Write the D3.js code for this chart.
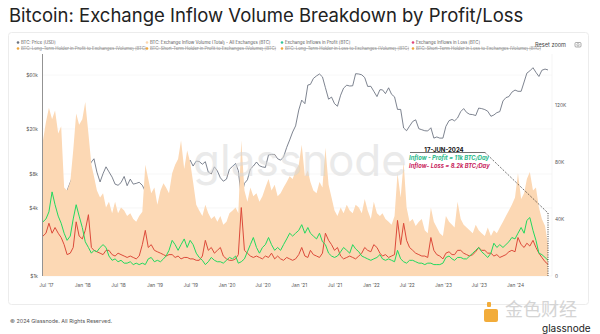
<!DOCTYPE html>
<html>
<head>
<meta charset="utf-8">
<script src="https://cdn.jsdelivr.net/npm/d3@7"></script>
<style>
  body { margin: 0; background: #fff; }
  svg { display: block; }
  text { font-family: Inter, "Open Sans", sans-serif; }
</style>
</head>
<body>
<svg id="chart" width="600" height="334"></svg>
<script>
/**
 * Bitcoin exchange inflow volume, split by profit / loss.
 * Semi-monthly samples (1st and 16th).
 */

// sample dates: 2017-06-16, then 1st & 16th of each month up to 2024-06-16
var dates = [new Date(2017, 5, 16)];
for (let m = 0; m < 84; m++) {
  dates.push(new Date(2017, 6 + m, 1));
  dates.push(new Date(2017, 6 + m, 16));
}

// BTC price [USD]
var priceUsd = [
  2450, 2480, 1930, 2720, 4380, 4900, 3680, 4400, 5700, 6740, 7850, 10900, 19400,
  13400, 11300, 9100, 10200, 10900, 8300, 6800, 8050, 9250, 8350, 7500, 6500, 6350, 6700, 7600, 6300, 7200, 6500, 6600, 6750, 6350, 5600, 4200, 3200,
  3850, 3650, 3480, 3620, 3820, 4000, 4150, 5050, 5350, 7900, 8550, 8900, 10600, 9400, 10400, 10300, 9750, 10270, 8300, 8000, 9250, 8500, 7400, 6900,
  7200, 8800, 9350, 9900, 8550, 5000, 6600, 7100, 8850, 9380, 10200, 9450, 9230, 9130, 11800, 11900, 11900, 10900, 10600, 11300, 13750, 16000, 18800, 21300,
  29400, 36000, 33500, 49000, 49600, 56000, 59000, 61300, 57800, 46400, 36700, 38300, 33500, 31800, 39800, 46000, 48800, 48000, 48200, 61700, 61300, 60300, 57000, 47600,
  47700, 43100, 38700, 44500, 44400, 41100, 46300, 40500, 38500, 29800, 29800, 20400, 19300, 21200, 23300, 24100, 20100, 19700, 19300, 19200, 20500, 16600, 17000, 16600,
  16600, 21100, 23700, 24300, 23600, 25000, 28500, 30300, 28000, 27000, 26800, 26300, 30600, 30300, 29700, 28700, 25900, 26600, 27900, 28500, 35400, 37900, 38700, 42300,
  44200, 43100, 43100, 52100, 62400, 65300, 69700, 63400, 58300, 66200, 67800, 66600
];

// Exchange inflow volume (total), all exchanges [K BTC]
var inflowTotal = [
  95, 108, 118, 110, 116, 100, 105, 62, 60, 66, 88, 114, 106,
  110, 122, 100, 78, 70, 60, 55, 58, 48, 52, 44, 52, 44, 48, 46, 42, 44, 40, 38, 42, 45, 78, 68, 58,
  62, 50, 60, 65, 62, 58, 72, 78, 82, 95, 75, 88, 80, 66, 50, 46, 42, 50, 44, 40, 42, 38, 42, 36,
  38, 44, 46, 48, 44, 95, 60, 52, 62, 56, 58, 52, 56, 62, 68, 60, 64, 56, 58, 62, 66, 70, 68, 74,
  78, 92, 70, 74, 66, 60, 58, 66, 62, 90, 64, 55, 46, 42, 48, 44, 50, 46, 44, 50, 48, 44, 54, 46,
  40, 52, 44, 42, 44, 40, 38, 36, 42, 72, 55, 80, 48, 38, 40, 35, 38, 40, 32, 30, 48, 38, 34, 30,
  28, 42, 38, 36, 34, 52, 40, 36, 34, 32, 30, 36, 32, 30, 28, 34, 28, 32, 30, 34, 38, 42, 46, 50,
  55, 72, 54, 58, 68, 73, 60, 62, 48, 40, 35, 22
];

// Exchange inflows in profit [K BTC]
var inflowProfit = [
  38, 40, 45, 59, 50, 42, 37, 30, 25, 28, 40, 50, 42,
  34, 24, 20, 16, 18, 17, 20, 22, 20, 14, 11, 12, 10, 11, 9, 9, 10, 8, 9, 8, 9, 8, 12, 13,
  10, 11, 10, 12, 14, 18, 25, 22, 18, 22, 26, 20, 25, 22, 16, 13, 11, 8, 10, 13, 11, 10, 10, 9,
  11, 13, 12, 14, 9, 10, 12, 17, 22, 27, 20, 16, 20, 22, 27, 22, 18, 20, 18, 22, 26, 30, 28, 30,
  32, 36, 30, 34, 30, 28, 26, 30, 24, 22, 16, 14, 13, 14, 17, 20, 18, 16, 22, 19, 17, 14, 13, 12,
  11, 12, 13, 15, 12, 11, 12, 11, 10, 18, 12, 10, 9, 11, 11, 10, 9, 9, 8, 9, 9, 8, 8, 8,
  9, 13, 14, 12, 11, 13, 13, 12, 12, 14, 16, 18, 20, 17, 15, 13, 16, 23, 20, 22, 20, 22, 24, 27,
  26, 30, 34, 30, 39, 41, 32, 25, 16, 15, 13, 11
];

// Exchange inflows in loss [K BTC]
var inflowLoss = [
  28, 30, 37, 30, 34, 30, 27, 22, 15, 16, 20, 38, 28,
  26, 32, 43, 20, 18, 17, 16, 15, 18, 18, 15, 14, 16, 15, 14, 13, 14, 13, 12, 14, 22, 32, 20, 22,
  18, 17, 16, 15, 14, 15, 15, 13, 14, 12, 13, 13, 12, 12, 11, 11, 14, 25, 18, 20, 16, 18, 20, 14,
  12, 11, 11, 12, 15, 48, 18, 16, 14, 13, 14, 13, 12, 14, 13, 16, 12, 14, 12, 11, 13, 12, 11, 12,
  15, 20, 14, 13, 18, 15, 14, 13, 16, 30, 25, 22, 18, 20, 14, 12, 13, 14, 13, 12, 14, 16, 20, 18,
  17, 22, 20, 16, 14, 15, 13, 14, 15, 39, 22, 37, 25, 20, 18, 16, 15, 14, 14, 13, 27, 18, 15, 14,
  12, 16, 17, 15, 15, 18, 18, 16, 15, 14, 15, 17, 20, 18, 18, 16, 16, 14, 15, 13, 14, 15, 17, 18,
  17, 27, 22, 20, 23, 21, 25, 20, 16, 13, 10, 8.2
];

var priceTicks = [1000, 4000, 8000, 20000, 60000];
var volumeTicks = [0, 40, 80, 120];

var legendRow1 = [
  {label: "BTC: Price [USD]", color: "#6b7280"},
  {label: "BTC: Exchange Inflow Volume (Total) - All Exchanges [BTC]", color: "#fbd6b1"},
  {label: "Exchange Inflows in Profit [BTC]", color: "#2fc59a"},
  {label: "Exchange Inflows in Loss [BTC]", color: "#e0457b"}
];
var legendRow2 = [
  "BTC: Long-Term Holder in Profit to Exchanges (Volume) [BTC]",
  "BTC: Short-Term Holder in Profit to Exchanges (Volume) [BTC]",
  "BTC: Long-Term Holder in Loss to Exchanges (Volume) [BTC]",
  "BTC: Short-Term Holder in Loss to Exchanges (Volume) [BTC]"
];

var svg = d3.select("#chart");

// title
svg.append("text")
  .attr("x", 9).attr("y", 22)
  .attr("font-size", 18.5).attr("fill", "#222")
  .text("Bitcoin: Exchange Inflow Volume Breakdown by Profit/Loss");

// card
svg.append("rect")
  .attr("x", 8.5).attr("y", 32.5).attr("width", 580).attr("height", 272)
  .attr("rx", 3).attr("fill", "#fff").attr("stroke", "#ececec");

// legend
var legendX = [18, 147, 282, 413];
legendRow1.forEach((d, i) => {
  svg.append("circle").attr("cx", legendX[i]).attr("cy", 42.5).attr("r", 1.3).attr("fill", d.color);
  svg.append("text").attr("x", legendX[i] + 3).attr("y", 44)
    .attr("font-size", 4.3).attr("fill", "#555").text(d.label);
});
legendRow2.forEach((d, i) => {
  svg.append("circle").attr("cx", legendX[i]).attr("cy", 48.5).attr("r", 1.3).attr("fill", "#f0a63a");
  svg.append("text").attr("x", legendX[i] + 3).attr("y", 50)
    .attr("font-size", 4.3).attr("fill", "#8a8a8a")
    .attr("text-decoration", "line-through").text(d);
});
svg.append("text").attr("x", 535).attr("y", 47).attr("font-size", 5.6).attr("fill", "#444").text("Reset zoom");
svg.append("rect").attr("x", 575).attr("y", 42.5).attr("width", 6).attr("height", 4.5).attr("rx", 1)
  .attr("fill", "none").attr("stroke", "#777").attr("stroke-width", 0.6);
svg.append("circle").attr("cx", 578).attr("cy", 44.8).attr("r", 1.2)
  .attr("fill", "none").attr("stroke", "#777").attr("stroke-width", 0.5);

// scales
var x = d3.scaleTime()
  .domain([new Date(2017, 5, 16), new Date(2024, 5, 16)])
  .range([43, 548]);
var yPrice = d3.scaleLog().domain([1000, 90300]).range([276, 55]);
var yVol = d3.scaleLinear().domain([0, 155]).range([276, 55]);

// grid
svg.append("g").selectAll("line").data(priceTicks).join("line")
  .attr("x1", 43).attr("x2", 552)
  .attr("y1", d => yPrice(d)).attr("y2", d => yPrice(d))
  .attr("stroke", "#f1f1f1").attr("stroke-width", 0.6);

// price (drawn first, the volume area covers it)
svg.append("path")
  .datum(priceUsd)
  .attr("fill", "none").attr("stroke", "#5d6573").attr("stroke-width", 0.8)
  .attr("d", d3.line().x((d, i) => x(dates[i])).y(d => yPrice(d)));

// total inflow area
svg.append("path")
  .datum(inflowTotal)
  .attr("fill", "#fcd8b4")
  .attr("d", d3.area().x((d, i) => x(dates[i])).y0(yVol(0)).y1(d => yVol(d)));

// watermark
svg.append("text")
  .attr("x", 300).attr("y", 176).attr("text-anchor", "middle")
  .attr("font-size", 44).attr("fill", "#d9d9d9").attr("opacity", 0.55)
  .text("glassnode");

// profit / loss lines
svg.append("path")
  .datum(inflowLoss)
  .attr("fill", "none").attr("stroke", "#dc4a3a").attr("stroke-width", 1)
  .attr("d", d3.line().x((d, i) => x(dates[i])).y(d => yVol(d)));
svg.append("path")
  .datum(inflowProfit)
  .attr("fill", "none").attr("stroke", "#22d95e").attr("stroke-width", 1)
  .attr("d", d3.line().x((d, i) => x(dates[i])).y(d => yVol(d)));

// axes
svg.append("line").attr("x1", 42.5).attr("x2", 42.5).attr("y1", 54).attr("y2", 276)
  .attr("stroke", "#777").attr("stroke-width", 0.8);
svg.append("line").attr("x1", 552).attr("x2", 552).attr("y1", 54).attr("y2", 276)
  .attr("stroke", "#eee").attr("stroke-width", 0.6);

var fmtPrice = d => "$" + (d / 1000) + "k";
var leftAxis = svg.append("g").attr("transform", "translate(38,0)")
  .call(d3.axisLeft(yPrice).tickValues(priceTicks).tickFormat(fmtPrice).tickSize(0).tickPadding(0));
var rightAxis = svg.append("g").attr("transform", "translate(555,0)")
  .call(d3.axisRight(yVol).tickValues(volumeTicks).tickFormat(d => d === 0 ? "0" : d + "K").tickSize(0).tickPadding(0));
var bottomAxis = svg.append("g").attr("transform", "translate(0,283)")
  .call(d3.axisBottom(x).ticks(d3.timeMonth.every(6)).tickFormat(d3.timeFormat("%b '%y")).tickSize(0).tickPadding(0));
[leftAxis, rightAxis, bottomAxis].forEach(g => {
  g.select(".domain").remove();
  g.selectAll("text").attr("font-size", 4.8).attr("fill", "#555").style("font-family", "Inter, 'Open Sans', sans-serif");
});
bottomAxis.selectAll("text").attr("dy", "0.9em");

// annotation
var endX = x(dates[dates.length - 1]);
svg.append("polyline")
  .attr("points", [[485, 152.5], [endX, 213], [endX, 276]].map(p => p.join(",")).join(" "))
  .attr("fill", "none").attr("stroke", "#111").attr("stroke-width", 0.8).attr("stroke-dasharray", "1,1.3");
svg.append("line").attr("x1", 410).attr("x2", 485).attr("y1", 152.5).attr("y2", 152.5)
  .attr("stroke", "#111").attr("stroke-width", 0.6);
svg.append("text").attr("x", 444).attr("y", 151.5).attr("text-anchor", "middle")
  .attr("font-size", 6).attr("font-weight", "bold").attr("fill", "#111").text("17-JUN-2024");
svg.append("text").attr("x", 409).attr("y", 159.5)
  .attr("font-size", 5.8).attr("font-weight", "bold").attr("font-style", "italic").attr("fill", "#27b98a")
  .text("Inflow - Profit = 11k BTC/Day");
svg.append("text").attr("x", 409).attr("y", 167.5)
  .attr("font-size", 5.8).attr("font-weight", "bold").attr("font-style", "italic").attr("fill", "#c81f5e")
  .text("Inflow- Loss = 8.2k BTC/Day");

// footer
svg.append("text").attr("x", 10).attr("y", 323).attr("font-size", 5.4).attr("fill", "#555")
  .text("© 2024 Glassnode. All Rights Reserved.");
svg.append("rect").attr("x", 487).attr("y", 302).attr("width", 4).attr("height", 5).attr("rx", 1).attr("fill", "#f2ac3a");
svg.append("rect").attr("x", 484).attr("y", 309).attr("width", 14).attr("height", 13).attr("rx", 2).attr("fill", "#f2ac3a");
svg.append("text").attr("x", 505).attr("y", 316).attr("font-size", 18).attr("fill", "#d4d4d4")
  .style("font-family", "'Noto Sans CJK SC', sans-serif").text("金色财经");
svg.append("text").attr("x", 542).attr("y", 331.5).attr("font-size", 10).attr("fill", "#222")
  .text("glassnode");
</script>
</body>
</html>
